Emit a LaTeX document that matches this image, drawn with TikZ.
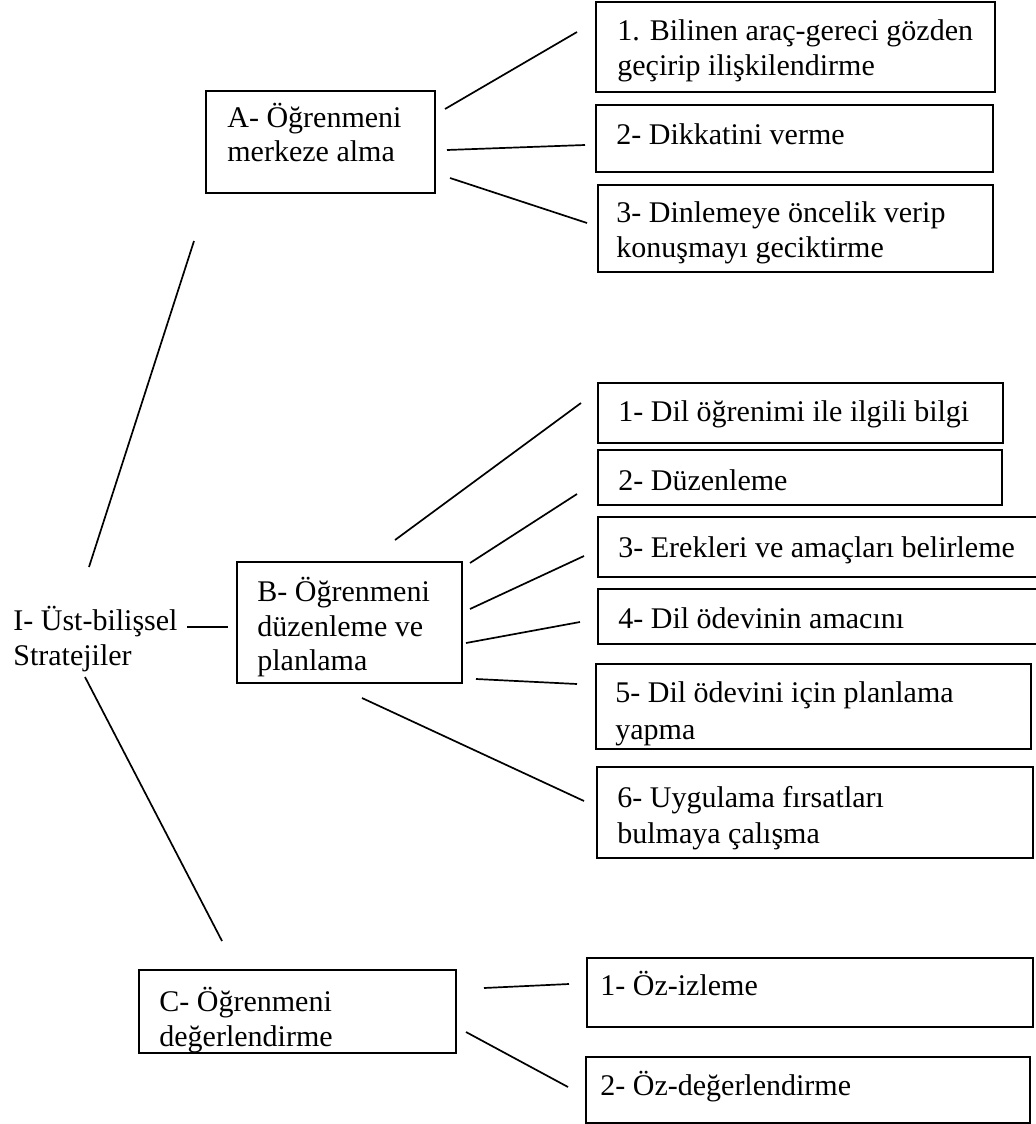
\documentclass[tikz,border=0pt]{standalone}
\usepackage{fontspec}
\setmainfont{Liberation Serif}
\usetikzlibrary{fit}
\begin{document}
\begin{tikzpicture}[x=0.5pt,y=-0.5pt,
  box/.style={draw=black,line width=0.9pt,inner sep=0pt,rectangle},
  txt/.style={inner sep=0pt,anchor=base west,font=\fontsize{15}{17}\selectfont},
  conn/.style={draw=black,line width=0.85pt}]
\clip (0,0) rectangle (1036,1124);
\fill[white] (0,0) rectangle (1036,1124);
% root
\node[txt] (i1) at (13,630) {I- Üst-bilişsel};
\node[txt] (i2) at (13,665) {Stratejiler};
% level A
\node[box,fit={(206,91) (435,193)}] (A) {};
\node[txt] (At1) at (227,127) {A- Öğrenmeni};
\node[txt] (At2) at (227,161) {merkeze alma};
\node[box,fit={(596,2) (995,92)}] (a1) {};
\node[txt] at (617,40) {1. Bilinen araç-gereci gözden};
\node[txt] at (617,75) {geçirip ilişkilendirme};
\node[box,fit={(596,105) (993,172)}] (a2) {};
\node[txt] at (616,144) {2- Dikkatini verme};
\node[box,fit={(598,185) (993,272)}] (a3) {};
\node[txt] at (616,222) {3- Dinlemeye öncelik verip};
\node[txt] at (616,257) {konuşmayı geciktirme};
% level B
\node[box,fit={(237,562) (462,683)}] (B) {};
\node[txt] at (257,601) {B- Öğrenmeni};
\node[txt] at (257,636) {düzenleme ve};
\node[txt] at (257,670) {planlama};
\node[box,fit={(598,383) (1003,443)}] (b1) {};
\node[txt] at (618,421) {1- Dil öğrenimi ile ilgili bilgi};
\node[box,fit={(598,450) (1002,505)}] (b2) {};
\node[txt] at (618,490) {2- Düzenleme};
\node[box,fit={(598,517) (1050,577)}] (b3) {};
\node[txt] at (618,557) {3- Erekleri ve amaçları belirleme};
\node[box,fit={(598,589) (1050,644)}] (b4) {};
\node[txt] at (618,628) {4- Dil ödevinin amacını};
\node[box,fit={(596,664) (1031,749)}] (b5) {};
\node[txt] at (615,702) {5- Dil ödevini için planlama};
\node[txt] at (615,739) {yapma};
\node[box,fit={(597,767) (1033,858)}] (b6) {};
\node[txt] at (617,807) {6- Uygulama fırsatları};
\node[txt] at (617,843) {bulmaya çalışma};
% level C
\node[box,fit={(139,970) (456,1053)}] (C) {};
\node[txt] at (159,1011) {C- Öğrenmeni};
\node[txt] at (159,1046) {değerlendirme};
\node[box,fit={(587,958) (1033,1027)}] (c1) {};
\node[txt] at (600,995) {1- Öz-izleme};
\node[box,fit={(586,1057) (1030,1123)}] (c2) {};
\node[txt] at (600,1095) {2- Öz-değerlendirme};
% connector end points
\coordinate (ia0) at (89,567);   \coordinate (ia1) at (194,241);
\coordinate (ib0) at (187,627);  \coordinate (ib1) at (228,627);
\coordinate (ic0) at (85,677);   \coordinate (ic1) at (222,941);
\coordinate (aa0) at (445,109);  \coordinate (aa1) at (577,32);
\coordinate (ab0) at (447,150);  \coordinate (ab1) at (585,145);
\coordinate (ac0) at (450,178);  \coordinate (ac1) at (587,223);
\coordinate (ba0) at (395,540);  \coordinate (ba1) at (581,403);
\coordinate (bb0) at (470,563);  \coordinate (bb1) at (577,494);
\coordinate (bc0) at (470,609);  \coordinate (bc1) at (584,556);
\coordinate (bd0) at (466,643);  \coordinate (bd1) at (580,622);
\coordinate (be0) at (476,679);  \coordinate (be1) at (577,684);
\coordinate (bf0) at (362,698);  \coordinate (bf1) at (584,801);
\coordinate (ca0) at (484,988);  \coordinate (ca1) at (569,984);
\coordinate (cb0) at (466,1032); \coordinate (cb1) at (568,1087);
% connectors
\draw[conn] (ia0) -- (ia1);
\draw[conn] (ib0) -- (ib1);
\draw[conn] (ic0) -- (ic1);
\draw[conn] (aa0) -- (aa1);
\draw[conn] (ab0) -- (ab1);
\draw[conn] (ac0) -- (ac1);
\draw[conn] (ba0) -- (ba1);
\draw[conn] (bb0) -- (bb1);
\draw[conn] (bc0) -- (bc1);
\draw[conn] (bd0) -- (bd1);
\draw[conn] (be0) -- (be1);
\draw[conn] (bf0) -- (bf1);
\draw[conn] (ca0) -- (ca1);
\draw[conn] (cb0) -- (cb1);
\end{tikzpicture}
\end{document}
